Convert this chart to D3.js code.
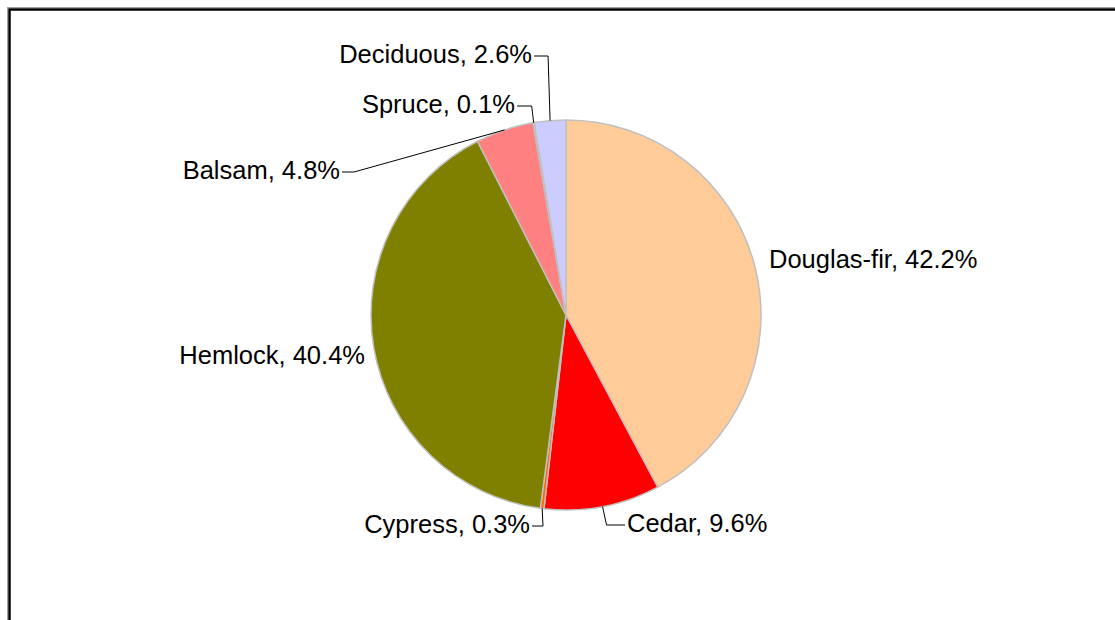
<!DOCTYPE html>
<html>
<head>
<meta charset="utf-8">
<script src="https://cdn.jsdelivr.net/npm/d3@7"></script>
<style>
  html, body { margin: 0; padding: 0; background: #fff; }
  svg { display: block; }
  text { font-family: "Liberation Sans", Arial, sans-serif; }
</style>
</head>
<body>
<svg width="1115" height="620"></svg>
<script>
// Data
const species = ["Douglas-fir", "Cedar", "Cypress", "Hemlock", "Balsam", "Spruce", "Deciduous"];
const shares = [42.2, 9.6, 0.3, 40.4, 4.8, 0.1, 2.6];
const colors = ["#FFCC99", "#FF0000", "#FF6600", "#808000", "#FF8080", "#0066CC", "#CCCCFF"];

// label layout: anchor x, baseline y, side, leader
const labelLayout = [
    { x: 769, y: 268, side: "start", leader: false },
    { x: 627, y: 532, side: "start", leader: true },
    { x: 530, y: 533, side: "end", leader: true },
    { x: 365, y: 364, side: "end", leader: false },
    { x: 340, y: 179, side: "end", leader: true },
    { x: 515, y: 113, side: "end", leader: true },
    { x: 532, y: 63, side: "end", leader: true }
];

const svg = d3.select("svg");
const cx = 566, cy = 315, r = 195;

// chart frame
svg.append("rect")
    .attr("x", 7.5).attr("y", 7.5)
    .attr("width", 1200).attr("height", 700)
    .attr("fill", "none").attr("stroke", "#a0a0a0").attr("stroke-width", 1);
svg.append("rect")
    .attr("x", 9.5).attr("y", 9.5)
    .attr("width", 1200).attr("height", 700)
    .attr("fill", "white").attr("stroke", "black").attr("stroke-width", 2.5);

const data = species.map((name, i) => ({ name, value: shares[i], color: colors[i], lay: labelLayout[i] }));

const pie = d3.pie().sort(null).value(d => d.value);
const arc = d3.arc().innerRadius(0).outerRadius(r);
const arcs = pie(data);

const g = svg.append("g").attr("transform", "translate(" + cx + "," + cy + ")");

g.selectAll("path")
    .data(arcs)
    .enter()
    .append("path")
    .attr("d", arc)
    .attr("fill", d => d.data.color)
    .attr("stroke", "#c0c0c0")
    .attr("stroke-width", 1.5)
    .attr("stroke-linejoin", "round");

// leader lines
const edgePoint = d => {
    const a = (d.startAngle + d.endAngle) / 2;
    return [cx + r * Math.sin(a), cy - r * Math.cos(a)];
};

svg.selectAll(".leader")
    .data(arcs.filter(d => d.data.lay.leader))
    .enter()
    .append("polyline")
    .attr("class", "leader")
    .attr("fill", "none")
    .attr("stroke", "black")
    .attr("stroke-width", 1)
    .attr("points", d => {
        const lay = d.data.lay;
        const ly = lay.y - 7;
        const x0 = lay.side === "end" ? lay.x + 2 : lay.x - 2;
        const e = edgePoint(d);
        const elbow = lay.side === "end" ? Math.max(x0 + 11, Math.min(e[0] - 2, x0 + 16)) : Math.min(x0 - 11, e[0] + 4);
        const ex = lay.side === "end" && e[0] - x0 > 40 ? x0 + 12 : elbow;
        return [[x0, ly], [ex, ly], e].map(p => p.join(",")).join(" ");
    });

svg.selectAll(".lbl")
    .data(arcs)
    .enter()
    .append("text")
    .attr("class", "lbl")
    .attr("x", d => d.data.lay.x)
    .attr("y", d => d.data.lay.y)
    .attr("text-anchor", d => d.data.lay.side)
    .attr("font-size", 25.5)
    .attr("fill", "black")
    .text(d => d.data.name + ", " + d.data.value.toFixed(1) + "%");
</script>
</body>
</html>
